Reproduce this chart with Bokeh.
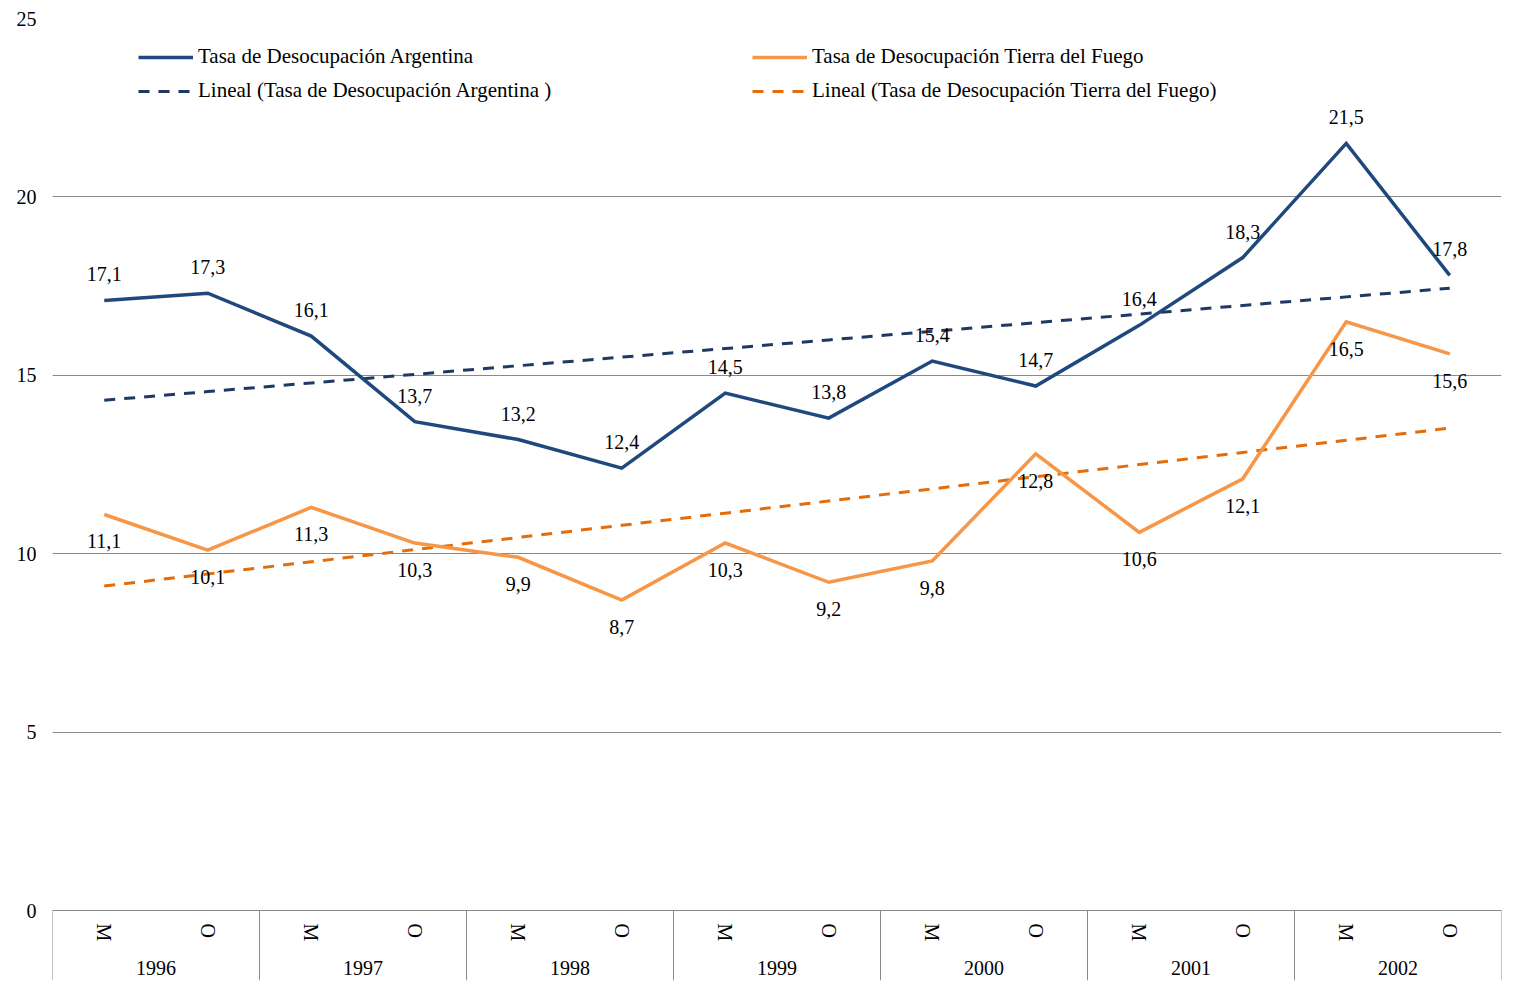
import numpy as np
from bokeh.plotting import figure
from bokeh.models import (FactorRange, Range1d, FixedTicker, ColumnDataSource, LabelSet,
                          Legend, LegendItem, CategoricalAxis)
from bokeh.embed import file_html
from bokeh.resources import INLINE

years = ["1996", "1997", "1998", "1999", "2000", "2001", "2002"]
periods = ["M", "O"]
argentina = [17.1, 17.3, 16.1, 13.7, 13.2, 12.4, 14.5, 13.8, 15.4, 14.7, 16.4, 18.3, 21.5, 17.8]
tdf = [11.1, 10.1, 11.3, 10.3, 9.9, 8.7, 10.3, 9.2, 9.8, 12.8, 10.6, 12.1, 16.5, 15.6]
y_ticks = [0, 5, 10, 15, 20, 25]

name_arg = "Tasa de Desocupación Argentina"
name_tdf = "Tasa de Desocupación Tierra del Fuego"
name_arg_tr = "Lineal (Tasa de Desocupación Argentina )"
name_tdf_tr = "Lineal (Tasa de Desocupación Tierra del Fuego)"

FONT = "Liberation Serif"
FS = "20px"
GRID = "#8a8a8a"
C_ARG = "#1f497d"
C_ARG_TR = "#1f3864"
C_TDF = "#f79646"
C_TDF_TR = "#e46c0a"

factors = [(y, s) for y in years for s in periods]
idx = np.arange(1, len(factors) + 1)
fit_a = np.polyfit(idx, argentina, 1)
fit_t = np.polyfit(idx, tdf, 1)
trend_a = list(np.polyval(fit_a, idx))
trend_t = list(np.polyval(fit_t, idx))

def fmt(v):
    return f"{v:.1f}".replace(".", ",")

src = ColumnDataSource(dict(
    x=factors, arg=argentina, tdf=tdf, ta=trend_a, tt=trend_t,
    larg=[fmt(v) for v in argentina], ltdf=[fmt(v) for v in tdf],
))

y_bottom = -1.96
xr = FactorRange(*factors, group_padding=0, factor_padding=0, range_padding=0)
p = figure(x_range=xr, y_range=Range1d(y_bottom, 25), width=1513, height=985,
           output_backend="svg", toolbar_location=None, x_axis_location=None,
           min_border_left=52, min_border_top=18, min_border_right=12, min_border_bottom=5)
p.outline_line_color = None
p.background_fill_color = "white"
p.border_fill_color = "white"

# y axis
p.yaxis.ticker = FixedTicker(ticks=y_ticks)
p.yaxis.axis_line_color = None
p.yaxis.major_tick_line_color = None
p.yaxis.minor_tick_line_color = None
p.yaxis.major_label_standoff = 10
p.yaxis.major_label_text_font = FONT
p.yaxis.major_label_text_font_size = FS
p.yaxis.major_label_text_color = "black"
p.ygrid.ticker = FixedTicker(ticks=y_ticks)
p.ygrid.grid_line_color = GRID
p.ygrid.grid_line_width = 1
p.xgrid.grid_line_color = None

def table_axis(show_sub, standoff):
    ax = CategoricalAxis(fixed_location=0)
    ax.axis_line_color = GRID if show_sub else None
    ax.axis_line_width = 1
    ax.major_tick_line_color = None
    ax.minor_tick_line_color = None
    ax.major_label_orientation = "vertical"
    ax.major_label_standoff = standoff
    ax.major_label_text_font = FONT
    ax.major_label_text_font_size = FS
    ax.major_label_text_color = "black" if show_sub else None
    ax.group_text_font = FONT
    ax.group_text_font_size = FS
    ax.group_text_font_style = "normal"
    ax.group_text_color = None if show_sub else "black"
    ax.separator_line_color = None
    return ax

# period labels (M / O) and year labels, both placed at y=0
p.add_layout(table_axis(True, 7), "below")
p.add_layout(table_axis(False, 44), "below")

# table separators
sep_x = [(years[0], periods[0], -0.5)] + [(y, periods[-1], 0.5) for y in years]
p.segment(x0=sep_x, y0=[0] * len(sep_x), x1=sep_x, y1=[y_bottom] * len(sep_x),
          line_color=GRID, line_width=1)

# series
r_ta = p.line("x", "ta", source=src, line_color=C_ARG_TR, line_width=3, line_dash="11 9")
r_tt = p.line("x", "tt", source=src, line_color=C_TDF_TR, line_width=3, line_dash="11 9")
r_a = p.line("x", "arg", source=src, line_color=C_ARG, line_width=3.5, line_join="miter")
r_t = p.line("x", "tdf", source=src, line_color=C_TDF, line_width=3.5, line_join="miter")

p.add_layout(LabelSet(x="x", y="arg", text="larg", source=src, y_offset=26,
                      text_align="center", text_baseline="middle",
                      text_font=FONT, text_font_size=FS, text_color="black"))
p.add_layout(LabelSet(x="x", y="tdf", text="ltdf", source=src, y_offset=-27,
                      text_align="center", text_baseline="middle",
                      text_font=FONT, text_font_size=FS, text_color="black"))

def make_legend(items, loc):
    lg = Legend(items=items, location=loc, orientation="vertical")
    lg.label_text_font = FONT
    lg.label_text_font_size = "21px"
    lg.label_text_color = "black"
    lg.glyph_width = 55
    lg.glyph_height = 20
    lg.label_height = 20
    lg.label_standoff = 5
    lg.spacing = 9
    lg.padding = 0
    lg.margin = 0
    lg.border_line_color = None
    lg.background_fill_alpha = 0
    return lg

p.add_layout(make_legend([LegendItem(label=name_arg, renderers=[r_a]),
                          LegendItem(label=name_arg_tr, renderers=[r_ta])], (86, 877)))
p.add_layout(make_legend([LegendItem(label=name_tdf, renderers=[r_t]),
                          LegendItem(label=name_tdf_tr, renderers=[r_tt])], (700, 877)))

open("out.html", "w").write(file_html(p, INLINE))
